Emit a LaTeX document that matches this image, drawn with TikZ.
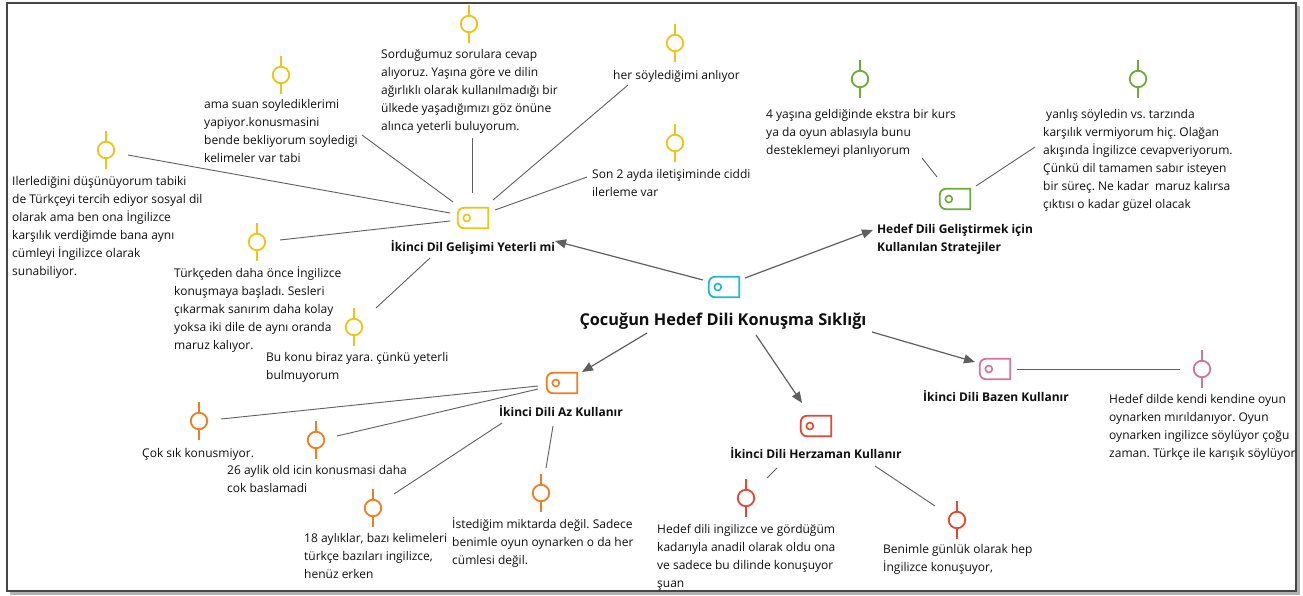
\documentclass[tikz,border=0pt]{standalone}
\usepackage{fontspec}
\setmainfont{Open Sans}
\usetikzlibrary{arrows.meta}
\definecolor{cyel}{RGB}{240,196,20}
\definecolor{cgrn}{RGB}{110,170,55}
\definecolor{ccyn}{RGB}{30,185,205}
\definecolor{cora}{RGB}{240,125,35}
\definecolor{cred}{RGB}{230,70,50}
\definecolor{cpnk}{RGB}{210,115,160}
\definecolor{lgray}{RGB}{95,95,95}
\definecolor{tcol}{RGB}{15,15,15}
\definecolor{fcol}{RGB}{70,70,70}
\newcommand\pinat[3]{%
  \node[pinc=#2] (#1) at (#3) {};
  \draw[#2, line width=1.8pt] (#1.north) -- ++(0,-10);
  \draw[#2, line width=1.8pt] (#1.south) -- ++(0,10);}
\newcommand\tagat[3]{%
  \node[tagbox] (#1) at (#3) {};
  \draw[#2, line width=1.8pt] (#1.north east) -- ([xshift=6pt]#1.north west)
     arc[start angle=90,end angle=180,radius=6pt] -- ([yshift=6pt]#1.south west)
     arc[start angle=180,end angle=270,radius=6pt] -- (#1.south east) -- cycle;
  \draw[#2, line width=1.6pt] ([xshift=9pt]#1.west) circle[radius=3.5pt];}
\frenchspacing
\begin{document}
\frenchspacing
\begin{tikzpicture}[x=1pt,y=-1pt,
  txt/.style={anchor=north west, align=left, inner sep=0pt, yshift=-4.5pt, text=tcol, font=\fontsize{12}{18}\selectfont\frenchspacing, execute at begin node={\rule{0pt}{12pt}}},
  lbl/.style={anchor=base, align=left, inner sep=0pt, text=tcol, font=\fontsize{12}{18}\selectfont\bfseries},
  pinc/.style={circle, draw=#1, line width=1.8pt, minimum size=16.5pt, inner sep=0pt},
  tagbox/.style={minimum width=30pt, minimum height=20pt, inner sep=0pt},
  conn/.style={draw=lgray, line width=0.9pt},
  arr/.style={draw=lgray, line width=1.2pt, -{Triangle[length=11pt,width=9pt]}}]
\useasboundingbox (0,0) rectangle (1303,595);
\fill[white] (0,0) rectangle (1303,595);
% frame
\draw[gray!60, line width=2.5pt] (1298.5,6) -- (1298.5,593.5) -- (10,593.5);
\draw[fcol, line width=1.2pt] (7,3) rectangle (1296,591);

% main node
\tagat{main}{ccyn}{724,287}
\node[lbl, font=\fontsize{16.3}{20}\selectfont\bfseries] (title) at (723,325) {Çocuğun Hedef Dili Konuşma Sıklığı};

% category icons and labels
\tagat{ytag}{cyel}{473,218}
\node[lbl] (ylbl) at (473,251) {İkinci Dil Gelişimi Yeterli mi};
\tagat{gtag}{cgrn}{955,199}
\node[lbl, anchor=north, execute at begin node={\rule{0pt}{12pt}}] (glbl) at (955,224.2) {Hedef Dili Geliştirmek için\\Kullanılan Stratejiler};
\tagat{otag}{cora}{562,383}
\node[lbl] (olbl) at (561,416) {İkinci Dili Az Kullanır};
\tagat{rtag}{cred}{816,426}
\node[lbl] (rlbl) at (816,458) {İkinci Dili Herzaman Kullanır};
\tagat{ptag}{cpnk}{995,369}
\node[lbl] (plbl) at (996,401) {İkinci Dili Bazen Kullanır};

% arrows from the main node
\coordinate (a1s) at (703,280); \coordinate (a1e) at (555,241);
\coordinate (a2s) at (745,278); \coordinate (a2e) at (873,230);
\coordinate (a3s) at (647,333); \coordinate (a3e) at (582,372);
\coordinate (a4s) at (756,335); \coordinate (a4e) at (802,403);
\coordinate (a5s) at (872,332); \coordinate (a5e) at (975,362);
\draw[arr] (a1s) -- (a1e);
\draw[arr] (a2s) -- (a2e);
\draw[arr] (a3s) -- (a3e);
\draw[arr] (a4s) -- (a4e);
\draw[arr] (a5s) -- (a5e);

% yellow leaves
\pinat{yp1}{cyel}{281,75}
\node[txt] (yt1) at (204,94.2) {ama suan soylediklerimi\\yapiyor.konusmasini\\bende bekliyorum soyledigi\\kelimeler var tabi};
\pinat{yp2}{cyel}{106,150}
\node[txt] (yt2) at (12,171.2) {Ilerlediğini düşünüyorum tabiki\\de Türkçeyi tercih ediyor sosyal dil\\olarak ama ben ona İngilizce\\karşılık verdiğimde bana aynı\\cümleyi İngilizce olarak\\sunabiliyor.};
\pinat{yp3}{cyel}{469,24}
\node[txt] (yt3) at (381,44.2) {Sorduğumuz sorulara cevap\\alıyoruz. Yaşına göre ve dilin\\ağırlıklı olarak kullanılmadığı bir\\ülkede yaşadığımızı göz önüne\\alınca yeterli buluyorum.};
\pinat{yp4}{cyel}{675,43}
\node[txt] (yt4) at (613,63.2) {her söylediğimi anlıyor};
\pinat{yp5}{cyel}{675,143}
\node[txt] (yt5) at (592,164.2) {Son 2 ayda iletişiminde ciddi\\ilerleme var};
\pinat{yp6}{cyel}{257,242}
\node[txt] (yt6) at (174,262.2) {Türkçeden daha önce İngilizce\\konuşmaya başladı. Sesleri\\çıkarmak sanırım daha kolay\\yoksa iki dile de aynı oranda\\maruz kalıyor.};
\pinat{yp7}{cyel}{354,327}
\node[txt] (yt7) at (266,347.2) {Bu konu biraz yara. çünkü yeterli\\bulmuyorum};

\coordinate (yc1a) at (362,135); \coordinate (yc1b) at (453,202);
\coordinate (yc2a) at (128,155); \coordinate (yc2b) at (450,213);
\coordinate (yc3a) at (472,138); \coordinate (yc3b) at (472,193);
\coordinate (yc4a) at (628,85);  \coordinate (yc4b) at (493,200);
\coordinate (yc5a) at (587,177); \coordinate (yc5b) at (495,210);
\coordinate (yc6a) at (280,240); \coordinate (yc6b) at (450,221);
\coordinate (yc7a) at (376,308); \coordinate (yc7b) at (430,258);
\foreach \i in {1,...,7}{\draw[conn] (yc\i a) -- (yc\i b);}

% green leaves
\pinat{gp1}{cgrn}{860,79}
\node[txt] (gt1) at (766,104.2) {4 yaşına geldiğinde ekstra bir kurs\\ya da oyun ablasıyla bunu\\desteklemeyi planlıyorum};
\pinat{gp2}{cgrn}{1138,79}
\node[txt] (gt2) at (1043,104.2) {\hspace*{3pt}yanlış söyledin vs. tarzında\\karşılık vermiyorum hiç. Olağan\\akışında İngilizce cevapveriyorum.\\Çünkü dil tamamen sabır isteyen\\bir süreç. Ne kadar\ \ maruz kalırsa\\çıktısı o kadar güzel olacak};
\coordinate (gc1a) at (922,158); \coordinate (gc1b) at (937,177);
\coordinate (gc2a) at (1035,147); \coordinate (gc2b) at (976,186);
\draw[conn] (gc1a) -- (gc1b);
\draw[conn] (gc2a) -- (gc2b);

% pink leaf
\pinat{pp1}{cpnk}{1202,369}
\node[txt] (pt1) at (1109,389.2) {Hedef dilde kendi kendine oyun\\oynarken mırıldanıyor. Oyun\\oynarken ingilizce söylüyor çoğu\\zaman. Türkçe ile karışık söylüyor};
\coordinate (pc1a) at (1017,369); \coordinate (pc1b) at (1180,369);
\draw[conn] (pc1a) -- (pc1b);

% orange leaves
\pinat{op1}{cora}{199,421}
\node[txt] (ot1) at (142,441.2) {Çok sık konusmiyor.};
\pinat{op2}{cora}{316,440}
\node[txt] (ot2) at (227,460.2) {26 aylik old icin konusmasi daha\\cok baslamadi};
\pinat{op3}{cora}{373,508}
\node[txt] (ot3) at (304,528.2) {18 aylıklar, bazı kelimeleri\\türkçe bazıları ingilizce,\\henüz erken};
\pinat{op4}{cora}{541,493}
\node[txt] (ot4) at (452,513.2) {İstediğim miktarda değil. Sadece\\benimle oyun oynarken o da her\\cümlesi değil.};
\coordinate (oc1a) at (538,386); \coordinate (oc1b) at (221,419);
\coordinate (oc2a) at (538,389); \coordinate (oc2b) at (337,436);
\coordinate (oc3a) at (502,423); \coordinate (oc3b) at (394,494);
\coordinate (oc4a) at (553,426); \coordinate (oc4b) at (546,468);
\foreach \i in {1,...,4}{\draw[conn] (oc\i a) -- (oc\i b);}

% red leaves
\pinat{rp1}{cred}{746,498}
\node[txt] (rt1) at (657,519.2) {Hedef dili ingilizce ve gördüğüm\\kadarıyla anadil olarak oldu ona\\ve sadece bu dilinde konuşuyor\\şuan};
\pinat{rp2}{cred}{957,520}
\node[txt] (rt2) at (883,539.2) {Benimle günlük olarak hep\\İngilizce konuşuyor,};
\coordinate (rc1a) at (777,468); \coordinate (rc1b) at (767,478);
\coordinate (rc2a) at (875,466); \coordinate (rc2b) at (935,506);
\draw[conn] (rc1a) -- (rc1b);
\draw[conn] (rc2a) -- (rc2b);
\end{tikzpicture}
\end{document}
